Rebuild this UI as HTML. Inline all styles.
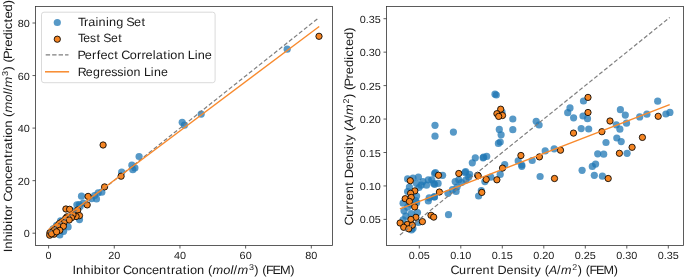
<!DOCTYPE html><html><head><meta charset="utf-8"><style>html,body{margin:0;padding:0;background:#fff;width:685px;height:278px;overflow:hidden}</style></head><body><svg width="685" height="278" viewBox="0 0 685 278" style="display:block;will-change:transform;font-family:'Liberation Sans', sans-serif;text-rendering:geometricPrecision">
<defs>
<clipPath id="cl"><rect x="35.5" y="6.5" width="297.0" height="239.0"/></clipPath>
<clipPath id="cr"><rect x="386.5" y="6.5" width="297.0" height="239.0"/></clipPath>
</defs>
<rect width="685" height="278" fill="#fff"/>
<g clip-path="url(#cl)">
<g fill="rgb(31,119,180)" fill-opacity="0.75">
<circle cx="287.2" cy="49.2" r="3.6"/>
<circle cx="182.2" cy="122.3" r="3.6"/>
<circle cx="184.4" cy="125.2" r="3.6"/>
<circle cx="201.2" cy="114.1" r="3.6"/>
<circle cx="139.1" cy="156.5" r="3.6"/>
<circle cx="131.9" cy="165.2" r="3.6"/>
<circle cx="134.9" cy="167.9" r="3.6"/>
<circle cx="132.8" cy="169.7" r="3.6"/>
<circle cx="121.7" cy="172.2" r="3.6"/>
<circle cx="81.5" cy="196.2" r="3.6"/>
<circle cx="80.1" cy="206.5" r="3.6"/>
<circle cx="83.3" cy="203.0" r="3.6"/>
<circle cx="91.6" cy="198.6" r="3.6"/>
<circle cx="94.6" cy="195.5" r="3.6"/>
<circle cx="98.2" cy="192.8" r="3.6"/>
<circle cx="101.8" cy="192.2" r="3.6"/>
<circle cx="96.5" cy="199.0" r="3.6"/>
<circle cx="76.9" cy="204.8" r="3.6"/>
<circle cx="79.3" cy="204.6" r="3.6"/>
<circle cx="79.5" cy="219.6" r="3.6"/>
<circle cx="68.1" cy="226.9" r="3.6"/>
<circle cx="59.8" cy="234.9" r="3.6"/>
<circle cx="63.6" cy="231.3" r="3.6"/>
<circle cx="53.1" cy="228.8" r="3.6"/>
<circle cx="56.6" cy="225.3" r="3.6"/>
<circle cx="60.6" cy="220.8" r="3.6"/>
<circle cx="73.3" cy="211.0" r="3.6"/>
</g>
<g fill="rgb(245,133,35)" stroke="#000" stroke-width="0.85">
<circle cx="319.0" cy="36.3" r="3.15"/>
<circle cx="103.1" cy="145.0" r="3.15"/>
<circle cx="121.1" cy="176.2" r="3.15"/>
<circle cx="104.6" cy="186.9" r="3.15"/>
<circle cx="88.1" cy="196.4" r="3.15"/>
<circle cx="87.2" cy="204.9" r="3.15"/>
<circle cx="65.9" cy="209.0" r="3.15"/>
<circle cx="69.6" cy="209.3" r="3.15"/>
<circle cx="77.8" cy="210.0" r="3.15"/>
<circle cx="79.5" cy="215.6" r="3.15"/>
<circle cx="76.1" cy="216.5" r="3.15"/>
<circle cx="73.0" cy="214.8" r="3.15"/>
<circle cx="71.5" cy="217.8" r="3.15"/>
<circle cx="67.0" cy="216.8" r="3.15"/>
<circle cx="65.7" cy="218.3" r="3.15"/>
<circle cx="69.2" cy="220.0" r="3.15"/>
<circle cx="62.1" cy="221.8" r="3.15"/>
<circle cx="64.0" cy="222.6" r="3.15"/>
<circle cx="59.3" cy="223.6" r="3.15"/>
<circle cx="63.4" cy="226.3" r="3.15"/>
<circle cx="55.7" cy="227.7" r="3.15"/>
<circle cx="57.6" cy="225.8" r="3.15"/>
<circle cx="59.8" cy="230.3" r="3.15"/>
<circle cx="52.6" cy="231.3" r="3.15"/>
<circle cx="54.6" cy="229.8" r="3.15"/>
<circle cx="49.9" cy="232.7" r="3.15"/>
<circle cx="54.1" cy="234.2" r="3.15"/>
<circle cx="49.7" cy="235.2" r="3.15"/>
<circle cx="51.6" cy="233.8" r="3.15"/>
<circle cx="56.6" cy="231.8" r="3.15"/>
</g></g>
<line x1="48.6" y1="232.7" x2="319.0" y2="17.6" stroke="#7f7f7f" stroke-width="1.2" stroke-dasharray="4.2,2.2"/>
<line x1="48.6" y1="229.5" x2="319.2" y2="26.5" stroke="rgb(248,138,45)" stroke-width="1.4"/>
<g clip-path="url(#cr)">
<g fill="rgb(31,119,180)" fill-opacity="0.75">
<circle cx="407.6" cy="178.9" r="3.6"/>
<circle cx="413.0" cy="178.0" r="3.6"/>
<circle cx="418.4" cy="177.1" r="3.6"/>
<circle cx="422.9" cy="181.6" r="3.6"/>
<circle cx="428.3" cy="179.8" r="3.6"/>
<circle cx="434.6" cy="173.5" r="3.6"/>
<circle cx="426.5" cy="185.2" r="3.6"/>
<circle cx="421.1" cy="185.2" r="3.6"/>
<circle cx="409.4" cy="187.0" r="3.6"/>
<circle cx="407.6" cy="191.5" r="3.6"/>
<circle cx="416.6" cy="196.0" r="3.6"/>
<circle cx="429.2" cy="197.8" r="3.6"/>
<circle cx="434.2" cy="196.9" r="3.6"/>
<circle cx="403.1" cy="203.2" r="3.6"/>
<circle cx="411.2" cy="204.1" r="3.6"/>
<circle cx="415.7" cy="200.5" r="3.6"/>
<circle cx="434.6" cy="184.3" r="3.6"/>
<circle cx="404.0" cy="210.8" r="3.6"/>
<circle cx="407.6" cy="207.2" r="3.6"/>
<circle cx="405.8" cy="216.2" r="3.6"/>
<circle cx="417.5" cy="212.6" r="3.6"/>
<circle cx="411.2" cy="213.5" r="3.6"/>
<circle cx="403.1" cy="219.8" r="3.6"/>
<circle cx="418.4" cy="222.5" r="3.6"/>
<circle cx="409.4" cy="203.6" r="3.6"/>
<circle cx="416.6" cy="202.7" r="3.6"/>
<circle cx="428.3" cy="200.9" r="3.6"/>
<circle cx="435.4" cy="172.6" r="3.6"/>
<circle cx="442.6" cy="175.3" r="3.6"/>
<circle cx="433.6" cy="183.4" r="3.6"/>
<circle cx="438.1" cy="183.4" r="3.6"/>
<circle cx="431.8" cy="179.8" r="3.6"/>
<circle cx="455.2" cy="181.6" r="3.6"/>
<circle cx="458.8" cy="179.8" r="3.6"/>
<circle cx="465.1" cy="172.6" r="3.6"/>
<circle cx="468.7" cy="177.1" r="3.6"/>
<circle cx="466.0" cy="179.8" r="3.6"/>
<circle cx="461.5" cy="182.5" r="3.6"/>
<circle cx="457.0" cy="187.0" r="3.6"/>
<circle cx="456.1" cy="191.5" r="3.6"/>
<circle cx="452.5" cy="189.7" r="3.6"/>
<circle cx="448.0" cy="193.3" r="3.6"/>
<circle cx="434.5" cy="196.9" r="3.6"/>
<circle cx="448.5" cy="214.7" r="3.6"/>
<circle cx="504.7" cy="164.5" r="3.6"/>
<circle cx="500.2" cy="174.4" r="3.6"/>
<circle cx="490.8" cy="177.1" r="3.6"/>
<circle cx="484.9" cy="181.6" r="3.6"/>
<circle cx="481.3" cy="190.6" r="3.6"/>
<circle cx="478.6" cy="196.0" r="3.6"/>
<circle cx="518.2" cy="160.9" r="3.6"/>
<circle cx="521.8" cy="166.3" r="3.6"/>
<circle cx="435.0" cy="125.3" r="3.6"/>
<circle cx="435.0" cy="136.2" r="3.6"/>
<circle cx="453.4" cy="132.1" r="3.6"/>
<circle cx="475.3" cy="157.8" r="3.6"/>
<circle cx="472.3" cy="162.8" r="3.6"/>
<circle cx="512.8" cy="119.0" r="3.6"/>
<circle cx="512.8" cy="129.7" r="3.6"/>
<circle cx="499.3" cy="129.4" r="3.6"/>
<circle cx="501.1" cy="134.8" r="3.6"/>
<circle cx="500.2" cy="142.0" r="3.6"/>
<circle cx="498.4" cy="143.4" r="3.6"/>
<circle cx="486.7" cy="156.4" r="3.6"/>
<circle cx="483.1" cy="157.8" r="3.6"/>
<circle cx="495.0" cy="94.2" r="3.6"/>
<circle cx="496.3" cy="95.0" r="3.6"/>
<circle cx="502.0" cy="112.0" r="3.6"/>
<circle cx="536.2" cy="121.3" r="3.6"/>
<circle cx="539.1" cy="125.0" r="3.6"/>
<circle cx="545.2" cy="150.9" r="3.6"/>
<circle cx="554.2" cy="148.8" r="3.6"/>
<circle cx="532.2" cy="160.5" r="3.6"/>
<circle cx="521.8" cy="165.0" r="3.6"/>
<circle cx="540.1" cy="176.5" r="3.6"/>
<circle cx="583.5" cy="101.0" r="3.6"/>
<circle cx="570.0" cy="107.9" r="3.6"/>
<circle cx="567.7" cy="112.7" r="3.6"/>
<circle cx="573.6" cy="117.8" r="3.6"/>
<circle cx="583.0" cy="116.0" r="3.6"/>
<circle cx="587.5" cy="118.7" r="3.6"/>
<circle cx="581.2" cy="128.6" r="3.6"/>
<circle cx="588.7" cy="129.0" r="3.6"/>
<circle cx="606.0" cy="142.5" r="3.6"/>
<circle cx="597.7" cy="153.8" r="3.6"/>
<circle cx="603.7" cy="154.2" r="3.6"/>
<circle cx="595.6" cy="164.1" r="3.6"/>
<circle cx="592.3" cy="166.4" r="3.6"/>
<circle cx="582.1" cy="170.3" r="3.6"/>
<circle cx="594.3" cy="175.3" r="3.6"/>
<circle cx="602.4" cy="176.2" r="3.6"/>
<circle cx="620.4" cy="109.7" r="3.6"/>
<circle cx="625.3" cy="115.1" r="3.6"/>
<circle cx="626.5" cy="123.2" r="3.6"/>
<circle cx="616.3" cy="124.8" r="3.6"/>
<circle cx="619.9" cy="129.2" r="3.6"/>
<circle cx="639.7" cy="116.9" r="3.6"/>
<circle cx="646.9" cy="114.2" r="3.6"/>
<circle cx="657.7" cy="101.2" r="3.6"/>
<circle cx="616.8" cy="138.0" r="3.6"/>
<circle cx="621.2" cy="141.6" r="3.6"/>
<circle cx="627.1" cy="153.3" r="3.6"/>
<circle cx="665.9" cy="114.0" r="3.6"/>
<circle cx="669.9" cy="112.4" r="3.6"/>
<circle cx="416.5" cy="183.5" r="3.6"/>
<circle cx="419.0" cy="187.5" r="3.6"/>
<circle cx="413.0" cy="228.5" r="3.6"/>
<circle cx="411.5" cy="230.0" r="3.6"/>
<circle cx="483.6" cy="157.2" r="3.6"/>
<circle cx="465.6" cy="171.6" r="3.6"/>
<circle cx="469.6" cy="174.3" r="3.6"/>
</g>
<g fill="rgb(245,133,35)" stroke="#000" stroke-width="0.85">
<circle cx="414.7" cy="206.9" r="3.15"/>
<circle cx="415.9" cy="217.3" r="3.15"/>
<circle cx="410.9" cy="219.4" r="3.15"/>
<circle cx="422.4" cy="221.6" r="3.15"/>
<circle cx="400.1" cy="223.0" r="3.15"/>
<circle cx="407.3" cy="224.5" r="3.15"/>
<circle cx="412.3" cy="225.2" r="3.15"/>
<circle cx="403.7" cy="227.3" r="3.15"/>
<circle cx="408.7" cy="228.8" r="3.15"/>
<circle cx="431.0" cy="215.3" r="3.15"/>
<circle cx="433.7" cy="217.1" r="3.15"/>
<circle cx="410.3" cy="180.7" r="3.15"/>
<circle cx="414.8" cy="190.9" r="3.15"/>
<circle cx="410.6" cy="193.3" r="3.15"/>
<circle cx="405.2" cy="198.7" r="3.15"/>
<circle cx="411.2" cy="197.4" r="3.15"/>
<circle cx="409.4" cy="201.4" r="3.15"/>
<circle cx="438.5" cy="175.3" r="3.15"/>
<circle cx="458.8" cy="173.5" r="3.15"/>
<circle cx="477.7" cy="175.3" r="3.15"/>
<circle cx="439.4" cy="192.0" r="3.15"/>
<circle cx="478.2" cy="175.8" r="3.15"/>
<circle cx="486.2" cy="179.4" r="3.15"/>
<circle cx="496.9" cy="179.8" r="3.15"/>
<circle cx="502.5" cy="168.1" r="3.15"/>
<circle cx="481.8" cy="192.4" r="3.15"/>
<circle cx="520.9" cy="155.5" r="3.15"/>
<circle cx="500.7" cy="109.2" r="3.15"/>
<circle cx="496.9" cy="113.7" r="3.15"/>
<circle cx="502.5" cy="115.5" r="3.15"/>
<circle cx="498.7" cy="116.4" r="3.15"/>
<circle cx="539.4" cy="156.9" r="3.15"/>
<circle cx="560.5" cy="150.2" r="3.15"/>
<circle cx="554.5" cy="178.5" r="3.15"/>
<circle cx="588.0" cy="97.4" r="3.15"/>
<circle cx="588.0" cy="112.5" r="3.15"/>
<circle cx="610.0" cy="121.0" r="3.15"/>
<circle cx="601.9" cy="131.7" r="3.15"/>
<circle cx="573.5" cy="133.1" r="3.15"/>
<circle cx="608.2" cy="178.5" r="3.15"/>
<circle cx="658.2" cy="116.3" r="3.15"/>
<circle cx="642.4" cy="137.4" r="3.15"/>
<circle cx="632.1" cy="147.3" r="3.15"/>
<circle cx="619.4" cy="153.3" r="3.15"/>
</g></g>
<line x1="399.9" y1="235.0" x2="669.7" y2="17.5" stroke="#7f7f7f" stroke-width="1.2" stroke-dasharray="4.2,2.2"/>
<line x1="399.9" y1="208.9" x2="669.7" y2="104.7" stroke="rgb(248,138,45)" stroke-width="1.4"/>
<rect x="35.5" y="6.5" width="297.0" height="239.0" fill="none" stroke="#333" stroke-width="0.8"/>
<rect x="386.5" y="6.5" width="297.0" height="239.0" fill="none" stroke="#333" stroke-width="0.8"/>
<line x1="48.60" y1="245.5" x2="48.60" y2="248.50" stroke="#333" stroke-width="0.8"/>
<g transform="translate(48.60,258.90) scale(1.0495,1)" fill="#1a1a1a"><text x="-2.87" y="-0.00" font-size="10.33">0</text></g>
<line x1="32.50" y1="233.20" x2="35.5" y2="233.20" stroke="#333" stroke-width="0.8"/>
<g transform="translate(29.90,237.20) scale(1.0495,1)" fill="#1a1a1a"><text x="-5.75" y="-0.00" font-size="10.33">0</text></g>
<line x1="114.28" y1="245.5" x2="114.28" y2="248.50" stroke="#333" stroke-width="0.8"/>
<g transform="translate(114.28,258.90) scale(1.0495,1)" fill="#1a1a1a"><text x="-5.75 0.01" y="-0.00" font-size="10.33">20</text></g>
<line x1="32.50" y1="180.65" x2="35.5" y2="180.65" stroke="#333" stroke-width="0.8"/>
<g transform="translate(29.90,184.65) scale(1.0495,1)" fill="#1a1a1a"><text x="-11.51 -5.75" y="-0.00" font-size="10.33">20</text></g>
<line x1="179.96" y1="245.5" x2="179.96" y2="248.50" stroke="#333" stroke-width="0.8"/>
<g transform="translate(179.96,258.90) scale(1.0495,1)" fill="#1a1a1a"><text x="-5.75 0.01" y="-0.00" font-size="10.33">40</text></g>
<line x1="32.50" y1="128.10" x2="35.5" y2="128.10" stroke="#333" stroke-width="0.8"/>
<g transform="translate(29.90,132.10) scale(1.0495,1)" fill="#1a1a1a"><text x="-11.51 -5.75" y="-0.00" font-size="10.33">40</text></g>
<line x1="245.64" y1="245.5" x2="245.64" y2="248.50" stroke="#333" stroke-width="0.8"/>
<g transform="translate(245.64,258.90) scale(1.0495,1)" fill="#1a1a1a"><text x="-5.75 0.01" y="-0.00" font-size="10.33">60</text></g>
<line x1="32.50" y1="75.55" x2="35.5" y2="75.55" stroke="#333" stroke-width="0.8"/>
<g transform="translate(29.90,79.55) scale(1.0495,1)" fill="#1a1a1a"><text x="-11.51 -5.75" y="-0.00" font-size="10.33">60</text></g>
<line x1="311.32" y1="245.5" x2="311.32" y2="248.50" stroke="#333" stroke-width="0.8"/>
<g transform="translate(311.32,258.90) scale(1.0495,1)" fill="#1a1a1a"><text x="-5.75 0.01" y="-0.00" font-size="10.33">80</text></g>
<line x1="32.50" y1="23.00" x2="35.5" y2="23.00" stroke="#333" stroke-width="0.8"/>
<g transform="translate(29.90,27.00) scale(1.0495,1)" fill="#1a1a1a"><text x="-11.51 -5.75" y="-0.00" font-size="10.33">80</text></g>
<line x1="419.30" y1="245.5" x2="419.30" y2="248.50" stroke="#333" stroke-width="0.8"/>
<g transform="translate(419.30,258.90) scale(1.0495,1)" fill="#1a1a1a"><text x="-10.07 -4.31 -1.43 4.32" y="-0.00" font-size="10.33">0.05</text></g>
<line x1="383.50" y1="219.40" x2="386.5" y2="219.40" stroke="#333" stroke-width="0.8"/>
<g transform="translate(380.90,223.40) scale(1.0495,1)" fill="#1a1a1a"><text x="-20.14 -14.38 -11.51 -5.75" y="-0.00" font-size="10.33">0.05</text></g>
<line x1="460.80" y1="245.5" x2="460.80" y2="248.50" stroke="#333" stroke-width="0.8"/>
<g transform="translate(460.80,258.90) scale(1.0495,1)" fill="#1a1a1a"><text x="-10.07 -4.31 -1.43 4.32" y="-0.00" font-size="10.33">0.10</text></g>
<line x1="383.50" y1="185.95" x2="386.5" y2="185.95" stroke="#333" stroke-width="0.8"/>
<g transform="translate(380.90,189.95) scale(1.0495,1)" fill="#1a1a1a"><text x="-20.14 -14.38 -11.51 -5.75" y="-0.00" font-size="10.33">0.10</text></g>
<line x1="502.30" y1="245.5" x2="502.30" y2="248.50" stroke="#333" stroke-width="0.8"/>
<g transform="translate(502.30,258.90) scale(1.0495,1)" fill="#1a1a1a"><text x="-10.07 -4.31 -1.43 4.32" y="-0.00" font-size="10.33">0.15</text></g>
<line x1="383.50" y1="152.50" x2="386.5" y2="152.50" stroke="#333" stroke-width="0.8"/>
<g transform="translate(380.90,156.50) scale(1.0495,1)" fill="#1a1a1a"><text x="-20.14 -14.38 -11.51 -5.75" y="-0.00" font-size="10.33">0.15</text></g>
<line x1="543.80" y1="245.5" x2="543.80" y2="248.50" stroke="#333" stroke-width="0.8"/>
<g transform="translate(543.80,258.90) scale(1.0495,1)" fill="#1a1a1a"><text x="-10.07 -4.31 -1.43 4.32" y="-0.00" font-size="10.33">0.20</text></g>
<line x1="383.50" y1="119.05" x2="386.5" y2="119.05" stroke="#333" stroke-width="0.8"/>
<g transform="translate(380.90,123.05) scale(1.0495,1)" fill="#1a1a1a"><text x="-20.14 -14.38 -11.51 -5.75" y="-0.00" font-size="10.33">0.20</text></g>
<line x1="585.30" y1="245.5" x2="585.30" y2="248.50" stroke="#333" stroke-width="0.8"/>
<g transform="translate(585.30,258.90) scale(1.0495,1)" fill="#1a1a1a"><text x="-10.07 -4.31 -1.43 4.32" y="-0.00" font-size="10.33">0.25</text></g>
<line x1="383.50" y1="85.60" x2="386.5" y2="85.60" stroke="#333" stroke-width="0.8"/>
<g transform="translate(380.90,89.60) scale(1.0495,1)" fill="#1a1a1a"><text x="-20.14 -14.38 -11.51 -5.75" y="-0.00" font-size="10.33">0.25</text></g>
<line x1="626.80" y1="245.5" x2="626.80" y2="248.50" stroke="#333" stroke-width="0.8"/>
<g transform="translate(626.80,258.90) scale(1.0495,1)" fill="#1a1a1a"><text x="-10.07 -4.31 -1.43 4.32" y="-0.00" font-size="10.33">0.30</text></g>
<line x1="383.50" y1="52.15" x2="386.5" y2="52.15" stroke="#333" stroke-width="0.8"/>
<g transform="translate(380.90,56.15) scale(1.0495,1)" fill="#1a1a1a"><text x="-20.14 -14.38 -11.51 -5.75" y="-0.00" font-size="10.33">0.30</text></g>
<line x1="668.30" y1="245.5" x2="668.30" y2="248.50" stroke="#333" stroke-width="0.8"/>
<g transform="translate(668.30,258.90) scale(1.0495,1)" fill="#1a1a1a"><text x="-10.07 -4.31 -1.43 4.32" y="-0.00" font-size="10.33">0.35</text></g>
<line x1="383.50" y1="18.70" x2="386.5" y2="18.70" stroke="#333" stroke-width="0.8"/>
<g transform="translate(380.90,22.70) scale(1.0495,1)" fill="#1a1a1a"><text x="-20.14 -14.38 -11.51 -5.75" y="-0.00" font-size="10.33">0.35</text></g>
<g transform="translate(184.20,274.20) scale(1.0678,1)" fill="#1a1a1a"><text x="-104.52 -101.25 -94.50 -87.63 -84.79 -77.91 -74.68 -71.01 -64.22 -57.27 -49.29 -42.65 -36.01 -30.15 -23.49 -16.35 -12.41 -8.30 -1.27 2.64 5.36 12.00 22.18 46.24 65.66 73.20 76.67 82.76 89.72 99.41" y="-0.00" font-size="12.03">InhibitorConcentration(/)(FEM)</text><text x="26.43 36.55 43.30 49.88" y="-0.00" font-size="12.03" font-style="italic">molm</text><text x="60.59" y="-4.21" font-size="8.42">3</text></g>
<g transform="translate(535.00,274.20) scale(1.0501,1)" fill="#1a1a1a"><text x="-80.56 -72.35 -65.34 -60.89 -56.68 -49.91 -42.68 -35.62 -27.12 -20.35 -13.76 -7.76 -4.46 -0.47 9.29 20.97 40.73 48.40 51.95 58.15 65.24 75.04" y="-0.00" font-size="12.03">CurrentDensity(/)(FEM)</text><text x="13.10 24.73" y="-0.00" font-size="12.03" font-style="italic">Am</text><text x="35.58" y="-4.21" font-size="8.42">2</text></g>
<g transform="translate(11.80,125.60) rotate(-90) scale(1.0817,1)" fill="#1a1a1a"><text x="-117.07 -113.87 -107.20 -100.39 -97.61 -90.80 -87.61 -84.01 -77.29 -70.45 -62.57 -56.02 -49.46 -43.67 -37.10 -30.03 -26.14 -22.10 -15.14 -11.28 -8.62 -2.07 8.00 31.76 50.93 58.37 61.58 68.93 72.98 79.55 86.36 89.04 95.33 98.95 105.52 112.26" y="-0.00" font-size="12.03">InhibitorConcentration(/)(Predicted)</text><text x="12.16 22.17 28.86 35.31" y="-0.00" font-size="12.03" font-style="italic">molm</text><text x="45.92" y="-4.21" font-size="8.42">3</text></g>
<g transform="translate(353.10,125.80) rotate(-90) scale(1.0705,1)" fill="#1a1a1a"><text x="-93.12 -85.05 -78.15 -73.78 -69.67 -63.04 -55.91 -49.03 -40.67 -34.04 -27.56 -21.65 -18.42 -14.53 -4.93 6.53 25.90 33.43 36.69 44.09 48.20 54.84 61.70 64.42 70.77 74.44 81.08 87.87" y="-0.00" font-size="12.03">CurrentDensity(/)(Predicted)</text><text x="-1.24 10.15" y="-0.00" font-size="12.03" font-style="italic">Am</text><text x="20.84" y="-4.21" font-size="8.42">2</text></g>
<rect x="41.5" y="12.2" width="173.6" height="70.5" rx="2.5" fill="#fff" fill-opacity="0.8" stroke="#d0d0d0" stroke-width="0.8"/>
<circle cx="57.3" cy="22.5" r="3.6" fill="rgb(31,119,180)" fill-opacity="0.75"/>
<circle cx="57.3" cy="39.2" r="3.15" fill="rgb(245,133,35)" stroke="#000" stroke-width="0.85"/>
<line x1="45.7" y1="54.95" x2="68.5" y2="54.95" stroke="#7f7f7f" stroke-width="1.2" stroke-dasharray="4.4,2.05"/>
<line x1="45.0" y1="71.8" x2="69.1" y2="71.8" stroke="rgb(248,138,45)" stroke-width="1.5"/>
<g transform="translate(78.40,25.70) scale(1.0561,1)" fill="#1a1a1a"><text x="-0.40 5.24 9.41 16.22 19.12 26.04 28.93 35.77 45.36 52.76 59.86" y="-0.00" font-size="12.03">TrainingSet</text></g>
<g transform="translate(78.40,42.40) scale(1.0143,1)" fill="#1a1a1a"><text x="-0.33 4.88 11.45 17.79 24.57 32.09 39.29" y="-0.00" font-size="12.03">TestSet</text></g>
<g transform="translate(78.40,59.10) scale(1.0578,1)" fill="#1a1a1a"><text x="-0.78 6.08 12.94 17.38 20.90 27.50 33.91 40.51 48.55 55.40 59.58 63.52 70.34 73.11 80.19 84.13 86.90 93.60 103.42 109.92 112.81 119.52" y="-0.00" font-size="12.03">PerfectCorrelationLine</text></g>
<g transform="translate(78.40,75.80) scale(1.0328,1)" fill="#1a1a1a"><text x="-0.53 7.20 14.08 21.19 25.25 31.85 37.59 43.66 46.54 53.40 63.46 70.08 73.08 79.96" y="-0.00" font-size="12.03">RegressionLine</text></g>
</svg></body></html>
